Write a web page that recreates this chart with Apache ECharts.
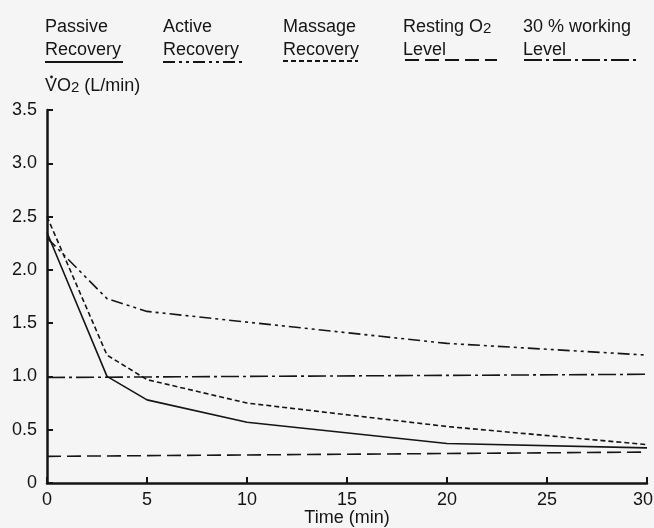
<!DOCTYPE html>
<html><head><meta charset="utf-8">
<script src="https://cdn.jsdelivr.net/npm/echarts@6/dist/echarts.min.js"></script>
<style>html,body{margin:0;padding:0;background:#f5f5f5}#c{width:654px;height:528px}</style>
</head><body><div id="c"></div>
<script>
// Data
const passiveT = [0, 3, 5, 10, 20, 30];
const passiveV = [2.35, 1.0, 0.78, 0.57, 0.37, 0.33];
const activeT = [0, 3, 5, 20, 30];
const activeV = [2.3, 1.73, 1.61, 1.31, 1.2];
const massageT = [0, 3, 5, 10, 20, 30];
const massageV = [2.5, 1.2, 0.97, 0.75, 0.53, 0.36];
const restingT = [0, 30];
const restingV = [0.25, 0.29];
const workingT = [0, 30];
const workingV = [0.99, 1.02];
const xTicks = [0, 5, 10, 15, 20, 25, 30];
const yTicks = ['0', '0.5', '1.0', '1.5', '2.0', '2.5', '3.0', '3.5'];

const pairs = (t, v) => t.map((x, i) => [x, v[i]]);
const FONT = 'Liberation Sans';
const INK = '#151515';
const styles = {
  passive: {type: 'solid'},
  active: {type: [12, 4, 3, 4, 3, 4]},
  massage: {type: [5, 3]},
  resting: {type: [14, 6]},
  working: {type: [18, 4, 3, 4]}
};
const chart = echarts.init(document.getElementById('c'));
function ser(name, t, v, st) {
  return {name, type: 'line', data: pairs(t, v), symbol: 'none', animation: false,
    lineStyle: {color: INK, width: 1.6, type: st.type}};
}
const sub = {s: {fontSize: 15, fontFamily: FONT, fill: INK, verticalAlign: 'bottom', padding: [3, 0, 0, 0]}};
function txt(x, y, s) {
  return {type: 'text', left: x, top: y, style: {text: s, fontSize: 18, fontFamily: FONT, fill: INK, rich: sub}};
}
function legendItem(x, l1, l2, lx1, lx2, ly, st) {
  return [
    txt(x, 18, l1),
    txt(x, 41, l2),
    {type: 'line', shape: {x1: lx1, y1: ly, x2: lx2, y2: ly},
      style: {stroke: INK, lineWidth: 2, lineDash: st.type === 'solid' ? null : st.type}}
  ];
}
const graphics = [].concat(
  legendItem(45, 'Passive', 'Recovery', 45, 123, 62, styles.passive),
  legendItem(163, 'Active', 'Recovery', 163, 245, 62, styles.active),
  legendItem(283, 'Massage', 'Recovery', 283, 358, 61, styles.massage),
  legendItem(403, 'Resting O{s|2}', 'Level', 405, 497, 60, styles.resting),
  legendItem(523, '30 % working', 'Level', 524, 637, 60, styles.working),
  [txt(45, 77, 'VO{s|2} (L/min)'),
   {type: 'circle', shape: {cx: 51.5, cy: 77, r: 1.4}, style: {fill: INK}}]
);
chart.setOption({
  backgroundColor: '#f5f5f5',
  animation: false,
  grid: {left: 47, right: 7, top: 110, bottom: 45, outerBoundsMode: 'none', containLabel: false},
  xAxis: {type: 'value', min: 0, max: 30, interval: 5,
    name: 'Time (min)', nameLocation: 'middle', nameGap: 26, nameMoveOverlap: false,
    nameTextStyle: {fontFamily: FONT, fontSize: 18, color: INK, verticalAlign: 'top'},
    axisLine: {lineStyle: {color: INK, width: 2.5}},
    axisTick: {inside: true, length: 6, lineStyle: {color: INK, width: 2}},
    axisLabel: {fontFamily: FONT, fontSize: 18, color: INK, margin: 8,
      rich: {r: {fontFamily: FONT, fontSize: 18, color: INK, padding: [0, 8, 0, 0]}},
      formatter: v => !xTicks.includes(v) ? '' : (v === 30 ? '{r|30}' : String(v))},
    splitLine: {show: false}},
  yAxis: {type: 'value', min: 0, max: 3.5, interval: 0.5,
    axisLine: {show: true, lineStyle: {color: INK, width: 2.5}},
    axisTick: {show: true, inside: true, length: 6, lineStyle: {color: INK, width: 2}},
    axisLabel: {fontFamily: FONT, fontSize: 18, color: INK, margin: 10,
      formatter: v => yTicks[Math.round(v / 0.5)]},
    splitLine: {show: false}},
  graphic: graphics,
  series: [
    ser('Passive Recovery', passiveT, passiveV, styles.passive),
    ser('Active Recovery', activeT, activeV, styles.active),
    ser('Massage Recovery', massageT, massageV, styles.massage),
    ser('Resting O2 Level', restingT, restingV, styles.resting),
    ser('30 % working Level', workingT, workingV, styles.working)
  ]
});
</script></body></html>
